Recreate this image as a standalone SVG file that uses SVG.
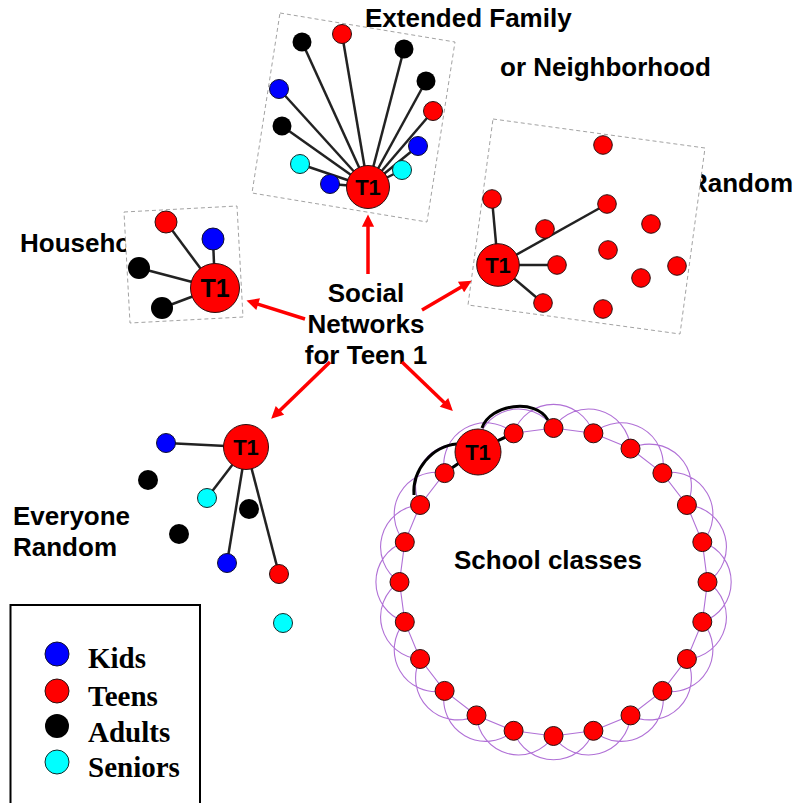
<svg xmlns="http://www.w3.org/2000/svg" width="795" height="803" viewBox="0 0 795 803">
<style>
.bg{fill:#fff}
.panel{fill:#fff;stroke:#8a8a8a;stroke-width:0.8;stroke-dasharray:4 3}
.lbl{font-family:"Liberation Sans",Arial,sans-serif;font-weight:bold;font-size:26px;fill:#000}
.t1{font-family:"Liberation Sans",Arial,sans-serif;font-weight:bold;font-size:22px;fill:#000;text-anchor:middle}
.leg{font-family:"Liberation Serif","Times New Roman",serif;font-weight:bold;font-size:29px;fill:#000}
.r{fill:#ff0000;stroke:#2a1010;stroke-width:1}
.b{fill:#0000ff;stroke:#101030;stroke-width:1}
.k{fill:#000}
.c{fill:#00ffff;stroke:#102a2a;stroke-width:1}
.edge{stroke:#222;stroke-width:2.5;fill:none}
.blk{stroke:#000;stroke-width:3;fill:none}
.arrow{stroke:#ff0000;stroke-width:3.5;fill:none;marker-end:url(#ah)}
.ring{stroke:#b070d6;stroke-width:1.1;fill:none}
</style>
<defs>
<marker id="ah" viewBox="0 0 10 10" refX="1" refY="5" markerWidth="4" markerHeight="3.5" orient="auto" markerUnits="strokeWidth">
<path d="M0,0 L10,5 L0,10 z" fill="#ff0000"/>
</marker>
</defs>
<rect class="bg" x="0" y="0" width="795" height="803"/>

<!-- labels partially hidden by panels -->
<text class="lbl" x="689" y="192">Random</text>
<text class="lbl" x="20" y="252">Household</text>

<!-- Extended family panel -->
<g id="extended-family">
<polygon class="panel" points="280,13 455,42 427,222 252,193"/>
<g class="edge">
<line x1="368" y1="187" x2="302" y2="42"/>
<line x1="368" y1="187" x2="342" y2="34"/>
<line x1="368" y1="187" x2="404" y2="49"/>
<line x1="368" y1="187" x2="426" y2="81"/>
<line x1="368" y1="187" x2="433" y2="111"/>
<line x1="368" y1="187" x2="279" y2="89"/>
<line x1="368" y1="187" x2="282" y2="126"/>
<line x1="368" y1="187" x2="418" y2="146"/>
<line x1="368" y1="187" x2="300" y2="164"/>
<line x1="368" y1="187" x2="402" y2="170"/>
<line x1="368" y1="187" x2="330" y2="184"/>
</g>
<circle class="k" cx="302" cy="42" r="9.5"/>
<circle class="r" cx="342" cy="34" r="9.5"/>
<circle class="k" cx="404" cy="49" r="9.5"/>
<circle class="k" cx="426" cy="81" r="9.5"/>
<circle class="r" cx="433" cy="111" r="9.5"/>
<circle class="b" cx="279" cy="89" r="9.5"/>
<circle class="k" cx="282" cy="126" r="9.5"/>
<circle class="b" cx="418" cy="146" r="9.5"/>
<circle class="c" cx="300" cy="164" r="9.5"/>
<circle class="c" cx="402" cy="170" r="9.5"/>
<circle class="b" cx="330" cy="184" r="9.5"/>
<circle class="r" cx="368" cy="187" r="21.5"/>
<text class="t1" x="368" y="195">T1</text>
</g>
<text class="lbl" x="365" y="27">Extended Family</text>
<text class="lbl" x="500" y="76">or Neighborhood</text>

<!-- Random panel -->
<g id="random">
<polygon class="panel" points="493,119 705,148 680,334 468,305"/>
<g class="edge">
<line x1="498" y1="265" x2="492" y2="199"/>
<line x1="498" y1="265" x2="607" y2="204"/>
<line x1="498" y1="265" x2="557" y2="265"/>
<line x1="498" y1="265" x2="543" y2="303"/>
</g>
<circle class="r" cx="603" cy="145" r="9.3"/>
<circle class="r" cx="492" cy="199" r="9.3"/>
<circle class="r" cx="607" cy="204" r="9.3"/>
<circle class="r" cx="545" cy="229" r="9.3"/>
<circle class="r" cx="651" cy="224" r="9.3"/>
<circle class="r" cx="608" cy="250" r="9.3"/>
<circle class="r" cx="557" cy="265" r="9.3"/>
<circle class="r" cx="677" cy="266" r="9.3"/>
<circle class="r" cx="641" cy="278" r="9.3"/>
<circle class="r" cx="543" cy="303" r="9.3"/>
<circle class="r" cx="603" cy="309" r="9.3"/>
<circle class="r" cx="498" cy="265" r="21.3"/>
<text class="t1" x="498" y="273">T1</text>
</g>

<!-- Household panel -->
<g id="household">
<polygon class="panel" points="124,212 237,206 243,317 130,323"/>
<g class="edge">
<line x1="215" y1="288" x2="166" y2="222"/>
<line x1="215" y1="288" x2="213" y2="239"/>
<line x1="215" y1="288" x2="139" y2="268"/>
<line x1="215" y1="288" x2="162" y2="308"/>
</g>
<circle class="r" cx="166" cy="222" r="11"/>
<circle class="b" cx="213" cy="239" r="11"/>
<circle class="k" cx="139" cy="268" r="11"/>
<circle class="k" cx="162" cy="308" r="11"/>
<circle class="r" cx="215" cy="288" r="24.5"/>
<text class="t1" x="215" y="297" style="font-size:25px">T1</text>
</g>

<!-- Center label -->
<g id="center">
<text class="lbl" x="366" y="302" text-anchor="middle">Social</text>
<text class="lbl" x="366" y="333" text-anchor="middle">Networks</text>
<text class="lbl" x="366" y="364" text-anchor="middle">for Teen 1</text>
</g>

<!-- Arrows -->
<g id="connectors">
<line class="arrow" x1="368" y1="274" x2="368" y2="225.6"/>
<line class="arrow" x1="305" y1="319" x2="257" y2="303.8"/>
<line class="arrow" x1="422" y1="310" x2="462.1" y2="286.4"/>
<line class="arrow" x1="330" y1="362" x2="279.1" y2="411.2"/>
<line class="arrow" x1="402" y1="362" x2="444.9" y2="403.3"/>
</g>

<!-- Everyone random -->
<g id="everyone-random">
<text class="lbl" x="13" y="525">Everyone</text>
<text class="lbl" x="13" y="556">Random</text>
<g class="edge">
<line x1="246" y1="447" x2="166" y2="443"/>
<line x1="246" y1="447" x2="207" y2="498"/>
<line x1="246" y1="447" x2="227" y2="563"/>
<line x1="246" y1="447" x2="279" y2="574"/>
</g>
<circle class="b" cx="166" cy="443" r="9.5"/>
<circle class="k" cx="148" cy="480" r="10"/>
<circle class="c" cx="207" cy="498" r="9.5"/>
<circle class="k" cx="249" cy="509" r="10"/>
<circle class="k" cx="179" cy="534" r="10"/>
<circle class="b" cx="227" cy="563" r="9.5"/>
<circle class="r" cx="279" cy="574" r="9.5"/>
<circle class="c" cx="283" cy="623" r="9.5"/>
<circle class="r" cx="246" cy="447" r="22.5"/>
<text class="t1" x="246" y="455">T1</text>
</g>

<!-- School classes -->
<g id="school-classes">
<polygon class="ring" points="553.5,428 593.4,433.3 630.5,448.6 662.4,473.1 686.9,505 702.3,542.1 707.5,582 702.3,621.9 686.9,659 662.4,690.9 630.5,715.4 593.4,730.8 553.5,736 513.6,730.8 476.5,715.4 444.6,690.9 420.1,659 404.8,621.9 399.5,582 404.8,542.1 420.1,505 444.6,473.1 476.5,448.6 513.6,433.3"/>
<path class="ring" d="M553.5,428A42,42 0 0 1 630.5,448.6M593.4,433.3A42,42 0 0 1 662.4,473.1M630.5,448.6A42,42 0 0 1 686.9,505M662.4,473.1A42,42 0 0 1 702.3,542.1M686.9,505A42,42 0 0 1 707.5,582M702.3,542.1A42,42 0 0 1 702.3,621.9M707.5,582A42,42 0 0 1 686.9,659M702.3,621.9A42,42 0 0 1 662.4,690.9M686.9,659A42,42 0 0 1 630.5,715.4M662.4,690.9A42,42 0 0 1 593.4,730.8M630.5,715.4A42,42 0 0 1 553.5,736M593.4,730.8A42,42 0 0 1 513.6,730.8M553.5,736A42,42 0 0 1 476.5,715.4M513.6,730.8A42,42 0 0 1 444.6,690.9M476.5,715.4A42,42 0 0 1 420.1,659M444.6,690.9A42,42 0 0 1 404.8,621.9M420.1,659A42,42 0 0 1 399.5,582M404.8,621.9A42,42 0 0 1 404.8,542.1M399.5,582A42,42 0 0 1 420.1,505M404.8,542.1A42,42 0 0 1 444.6,473.1M420.1,505A42,42 0 0 1 476.5,448.6M444.6,473.1A42,42 0 0 1 513.6,433.3M476.5,448.6A42,42 0 0 1 553.5,428M513.6,433.3A42,42 0 0 1 593.4,433.3"/>
<line class="blk" x1="478" y1="450" x2="513.6" y2="433.3"/>
<line class="blk" x1="478" y1="450" x2="444.6" y2="473.1"/>
<path class="blk" d="M482,428 C490,404 536,398 548,420"/>
<path class="blk" d="M457,444 C432,446 412,470 414,495"/>
<g>
<circle class="r" cx="553.5" cy="428" r="9.5"/>
<circle class="r" cx="593.4" cy="433.3" r="9.5"/>
<circle class="r" cx="630.5" cy="448.6" r="9.5"/>
<circle class="r" cx="662.4" cy="473.1" r="9.5"/>
<circle class="r" cx="686.9" cy="505" r="9.5"/>
<circle class="r" cx="702.3" cy="542.1" r="9.5"/>
<circle class="r" cx="707.5" cy="582" r="9.5"/>
<circle class="r" cx="702.3" cy="621.9" r="9.5"/>
<circle class="r" cx="686.9" cy="659" r="9.5"/>
<circle class="r" cx="662.4" cy="690.9" r="9.5"/>
<circle class="r" cx="630.5" cy="715.4" r="9.5"/>
<circle class="r" cx="593.4" cy="730.8" r="9.5"/>
<circle class="r" cx="553.5" cy="736" r="9.5"/>
<circle class="r" cx="513.6" cy="730.8" r="9.5"/>
<circle class="r" cx="476.5" cy="715.4" r="9.5"/>
<circle class="r" cx="444.6" cy="690.9" r="9.5"/>
<circle class="r" cx="420.1" cy="659" r="9.5"/>
<circle class="r" cx="404.8" cy="621.9" r="9.5"/>
<circle class="r" cx="399.5" cy="582" r="9.5"/>
<circle class="r" cx="404.8" cy="542.1" r="9.5"/>
<circle class="r" cx="420.1" cy="505" r="9.5"/>
<circle class="r" cx="444.6" cy="473.1" r="9.5"/>
<circle class="r" cx="513.6" cy="433.3" r="9.5"/>
<circle class="r" cx="478" cy="452" r="23"/>
<text class="t1" x="478" y="460">T1</text>
</g>
<text class="lbl" x="454" y="569">School classes</text>
</g>

<!-- Legend -->
<g id="legend">
<rect x="10.5" y="605" width="189.5" height="220" fill="#fff" stroke="#000" stroke-width="2"/>
<circle class="b" cx="57" cy="654" r="12"/>
<circle class="r" cx="57" cy="691" r="12"/>
<circle class="k" cx="57" cy="726" r="12"/>
<circle class="c" cx="57" cy="762" r="12"/>
<text class="leg" x="88" y="668">Kids</text>
<text class="leg" x="88" y="706">Teens</text>
<text class="leg" x="88" y="742">Adults</text>
<text class="leg" x="88" y="777">Seniors</text>
</g>
</svg>
